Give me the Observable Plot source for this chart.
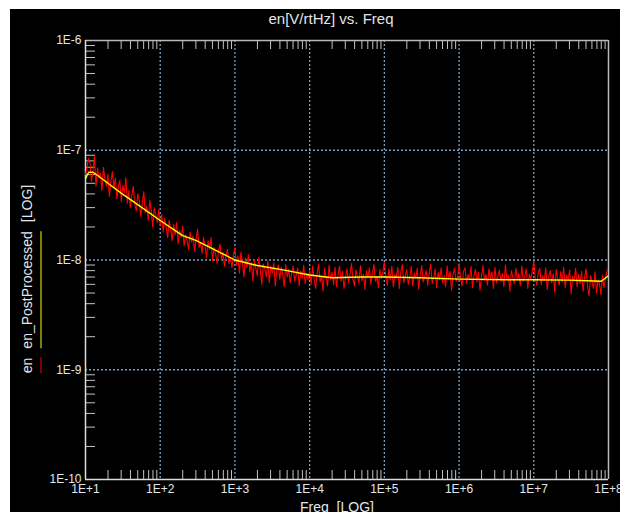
<!DOCTYPE html>
<html>
<head>
<meta charset="utf-8">
<script src="https://cdn.jsdelivr.net/npm/d3@7"></script>
<script src="https://cdn.jsdelivr.net/npm/@observablehq/plot@0.6"></script>
<style>
  html, body { margin: 0; padding: 0; background: #fff; }
  #wrap { position: relative; width: 620px; height: 512px; overflow: hidden; font-family: "Liberation Sans", Arial, sans-serif; }
  #panel { position: absolute; left: 10px; top: 9px; right: 0; bottom: 0; background: #000; }
  #chart { position: absolute; left: 0; top: 0; }
  .lbl { position: absolute; color: #e2e6ec; white-space: pre; line-height: 16px; }
  #title { left: 331px; top: 11px; transform: translateX(-50%); font-size: 15px; }
  #xlabel { left: 337px; top: 499px; transform: translateX(-50%); font-size: 14px; }
  #ylabel { left: 30px; top: 279px; transform: translate(-50%, -50%) rotate(-90deg); font-size: 14px; display: flex; align-items: flex-start; }
  #ylabel span.s { display: inline-block; padding-bottom: 6px; border-bottom: 1px solid transparent; }
</style>
</head>
<body>
<div id="wrap">
  <div id="panel"></div>
  <div id="chart"></div>
  <div id="title" class="lbl">en[V/rtHz] vs. Freq</div>
  <div id="xlabel" class="lbl">Freq  [LOG]</div>
  <div id="ylabel" class="lbl"></div>
</div>
<script>
// ---------- data ----------
const seriesNames = ["en", "en_PostProcessed"];
const seriesColors = ["#ff0000", "#ffff00"];

// measured noise "en": 50 log-spaced points per decade from 1E+1 to 1E+8, values in units of 1E-10 V/rtHz
const enStartFreq = 10;
const enPointsPerDecade = 50;
const enValues = [
  // 1E+1 .. 1E+2
  600,700,840,760,520,650,880,470,690,560,
  620,430,700,540,470,600,380,520,640,450,
  560,360,470,530,340,480,410,560,330,430,
  300,390,470,320,280,400,350,250,330,420,
  270,310,230,350,280,200,300,260,220,290,
  // 1E+2 .. 1E+3
  210,260,180,240,200,160,230,190,150,210,
  170,220,140,185,160,205,135,170,150,125,
  180,145,165,120,155,190,130,145,115,160,
  135,105,150,125,160,98,130,115,93,120,
  140,100,118,88,110,125,92,105,85,112,
  // 1E+3 .. 1E+4
  130,90,108,76,118,96,70,104,86,112,
  78,95,64,100,84,72,106,80,60,92,
  83,70,98,62,88,76,94,58,80,90,
  67,86,74,57,91,70,82,62,77,88,
  64,73,85,58,79,68,90,61,75,66,
  // 1E+4 .. 1E+5
  80,60,88,67,55,76,92,63,71,52,
  84,69,58,90,66,77,60,86,57,73,
  88,64,79,55,70,83,62,75,93,67,
  58,81,70,62,89,65,74,54,80,69,
  85,60,76,91,64,71,56,82,68,78,
  // 1E+5 .. 1E+6
  96,70,59,83,66,88,57,74,69,86,
  55,78,91,62,72,82,60,70,87,58,
  76,68,84,54,73,89,63,71,80,59,
  75,92,61,69,83,56,77,66,85,62,
  72,57,88,67,79,53,74,84,64,70,
  // 1E+6 .. 1E+7
  93,69,58,79,85,61,74,66,87,56,
  72,82,63,77,53,70,89,65,74,59,
  83,68,78,55,86,62,71,81,64,75,
  57,90,67,73,52,80,69,61,84,66,
  76,58,88,64,71,83,55,74,67,79,
  // 1E+7 .. 1E+8
  97,68,59,77,84,60,72,65,85,54,
  70,80,62,75,51,82,67,59,78,63,
  86,56,73,66,81,49,71,64,84,57,
  74,61,79,52,69,83,58,47,72,63,
  55,78,50,66,60,48,73,56,68,80,86
];

// smoothed "en_PostProcessed": frequencies and values in units of 1E-9 V/rtHz
const ppFreq = [10, 11, 12.6, 15, 20, 30, 50, 100, 200, 300, 500, 1000, 2000, 5000, 1e4, 2e4, 5e4, 1e5, 3e5, 1e6, 4.5e6, 1e7, 3e7, 8e7, 1e8];
const ppValues = [55, 63, 63, 58, 50, 40.7, 32, 22.9, 16.7, 15.1, 12.7, 10, 8.9, 8.0, 7.3, 6.9, 7.0, 7.0, 6.9, 6.7, 6.6, 6.6, 6.55, 6.4, 7.2];

// axes
const xDecades = [1e1, 1e2, 1e3, 1e4, 1e5, 1e6, 1e7, 1e8];
const xTickLabels = ["1E+1", "1E+2", "1E+3", "1E+4", "1E+5", "1E+6", "1E+7", "1E+8"];
const yDecades = [1e-10, 1e-9, 1e-8, 1e-7, 1e-6];
const yTickLabels = ["1E-10", "1E-9", "1E-8", "1E-7", "1E-6"];
const minorMultipliers = [2, 3, 4, 5, 6, 7, 8, 9];

// ---------- build ----------
const enData = enValues.map((v, i) => ({freq: enStartFreq * Math.pow(10, i / enPointsPerDecade), en: v * 1e-10}));
const ppData = ppFreq.map((f, i) => ({freq: f, en: ppValues[i] * 1e-9}));
const xMinor = xDecades.slice(0, -1).flatMap(d => minorMultipliers.map(m => d * m));
const yMinor = yDecades.slice(0, -1).flatMap(d => minorMultipliers.map(m => d * m));

const W = 620, H = 512, mL = 85, mR = 12, mT = 40, mB = 33;
const fw = W - mL - mR, fh = H - mT - mB;
const gridColor = "#76a0c6";
const tickColor = "#c4c4c4";
const textColor = "#e2e6ec";

const chart = Plot.plot({
  width: W, height: H,
  marginLeft: mL, marginRight: mR, marginTop: mT, marginBottom: mB,
  style: {background: "transparent", fontFamily: "'Liberation Sans', Arial, sans-serif", fontSize: "12px", overflow: "visible"},
  x: {type: "log", domain: [1e1, 1e8], axis: null},
  y: {type: "log", domain: [1e-10, 1e-6], axis: null},
  marks: [
    // dotted decade grid
    Plot.ruleX(xDecades.slice(1, -1), {x: d => d, stroke: gridColor, strokeWidth: 1.3, strokeDasharray: "2,2"}),
    Plot.ruleY(yDecades.slice(1, -1), {y: d => d, stroke: gridColor, strokeWidth: 1.3, strokeDasharray: "2,2"}),
    // minor ticks (top pointing down, bottom pointing up, left pointing right)
    Plot.ruleX(xMinor, {x: d => d, stroke: tickColor, insetBottom: fh - 9}),
    Plot.ruleX(xMinor, {x: d => d, stroke: tickColor, insetTop: fh - 9}),
    Plot.ruleY(yMinor, {y: d => d, stroke: tickColor, insetRight: fw - 10}),
    // frame
    Plot.ruleY([1e-6], {y: d => d, stroke: "#b8b8b8", strokeWidth: 1.5}),
    Plot.ruleX([1e8], {x: d => d, stroke: "#b8b8b8", strokeWidth: 1.5}),
    Plot.ruleX([1e1], {x: d => d, stroke: "#dcdcdc", strokeWidth: 1.5}),
    Plot.ruleY([1e-10], {y: d => d, stroke: "#dcdcdc", strokeWidth: 1.5}),
    // tick labels
    Plot.text(xDecades, {x: d => d, text: (d, i) => xTickLabels[i], frameAnchor: "bottom", dy: 13, fill: textColor, fontSize: 12}),
    Plot.text(yDecades, {y: d => d, text: (d, i) => yTickLabels[i], frameAnchor: "left", dx: -4, textAnchor: "end", fill: textColor, fontSize: 12}),
    // series
    Plot.line(enData, {x: "freq", y: "en", stroke: seriesColors[0], strokeWidth: 1.1, clip: true}),
    Plot.line(ppData, {x: "freq", y: "en", stroke: seriesColors[1], strokeWidth: 1.4, clip: true})
  ]
});
document.getElementById("chart").appendChild(chart);

// rotated y label with series markers
const yl = document.getElementById("ylabel");
seriesNames.forEach((name, i) => {
  const s = document.createElement("span");
  s.className = "s";
  s.textContent = name;
  s.style.borderBottomColor = seriesColors[i];
  s.style.marginRight = "9px";
  yl.appendChild(s);
});
const logSpan = document.createElement("span");
logSpan.className = "s";
logSpan.textContent = "[LOG]";
yl.appendChild(logSpan);
</script>
</body>
</html>
